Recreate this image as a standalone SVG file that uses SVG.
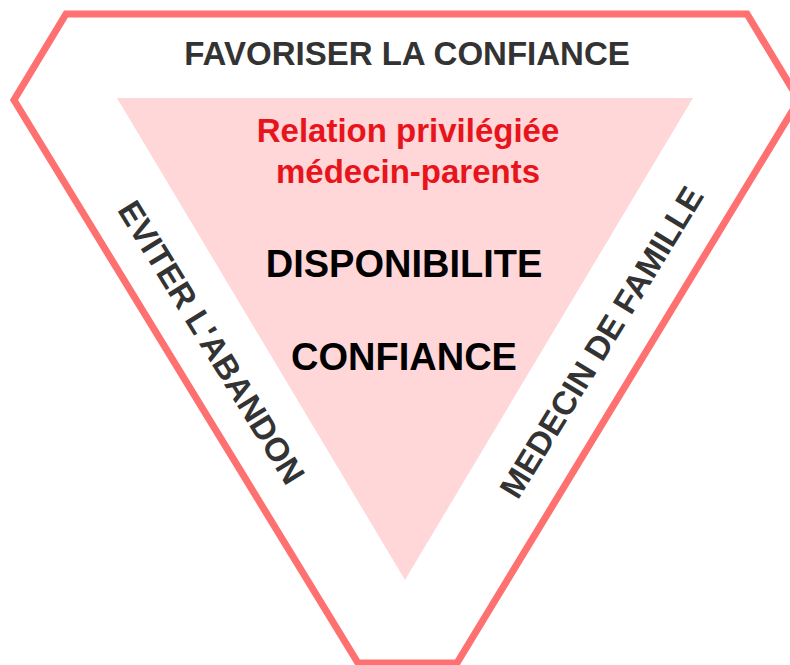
<svg xmlns="http://www.w3.org/2000/svg" width="790" height="665" viewBox="0 0 790 665">
<style>
.frame{fill:none;stroke:#ff7070;stroke-width:7;stroke-linejoin:miter}
.tri{fill:#ffd7d8}
.t{font-family:"Liberation Sans",Arial,sans-serif;font-weight:bold;text-anchor:middle}
.side{fill:#333333;font-size:33px}
.red{fill:#e8141c;font-size:33px}
.big{fill:#000000;font-size:38px}
</style>
<rect width="790" height="665" fill="#ffffff"/>
<g id="frame">
<polygon class="frame" points="66,14 747,14 799,100 457,663 358,663 14,100"/>
</g>
<g id="triangle">
<polygon class="tri" points="117,98 693,98 405,580"/>
</g>
<g id="connectors"></g>
<g id="top-label"><text class="t side" x="407" y="65">FAVORISER LA CONFIANCE</text></g>
<g id="relation"><text class="t red" x="408" y="142">Relation privilégiée</text><text class="t red" x="408" y="183">médecin-parents</text></g>
<g id="disponibilite"><text class="t big" x="404" y="277">DISPONIBILITE</text></g>
<g id="confiance"><text class="t big" x="404" y="370">CONFIANCE</text></g>
<g id="left-label"><text class="t side" transform="translate(212,342) rotate(58.5)" y="12">EVITER L'ABANDON</text></g>
<g id="right-label"><text class="t side" transform="translate(601,342) rotate(-58.5)" y="12">MEDECIN DE FAMILLE</text></g>
</svg>
